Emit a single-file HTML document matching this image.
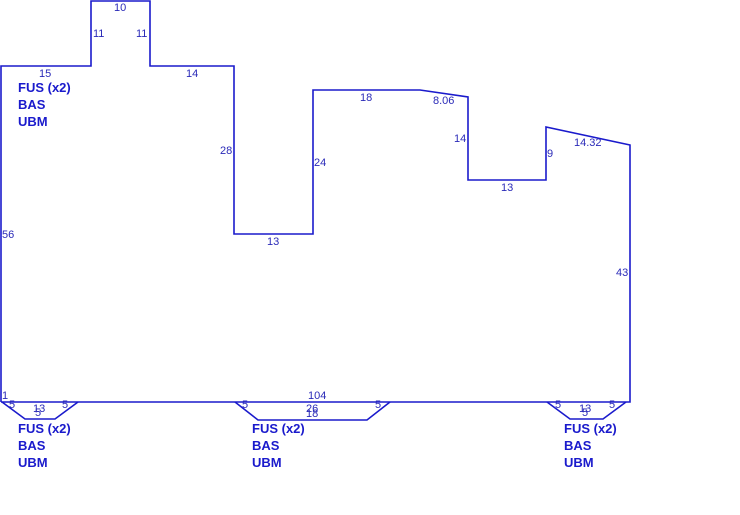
<!DOCTYPE html>
<html><head><style>
body{margin:0;background:#fff;}
svg{display:block;font-family:"Liberation Sans",sans-serif;}
.l{font-size:11px;fill:#2a2ab8;}
.b{font-size:13px;font-weight:bold;fill:#1a1acc;}
</style></head><body>
<svg width="740" height="515" viewBox="0 0 740 515">
<g fill="none" stroke="#1a1acc" stroke-width="1.6">
<polyline points="1,402 1,66 91,66 91,1 150,1 150,66 234,66 234,234 313,234 313,90 420,90 468,97 468,180 546,180 546,127 630,145 630,402 1,402"/>
<polyline points="2,402 25,419 55,419 78,402"/>
<polyline points="235,402 258,420 367,420 390,402"/>
<polyline points="547,402 570,419 603,419 626,402"/>
</g>
<g class="l">
<text x="114" y="11">10</text>
<text x="93" y="37">11</text>
<text x="136" y="37">11</text>
<text x="39" y="77">15</text>
<text x="186" y="77">14</text>
<text x="220" y="154">28</text>
<text x="360" y="101">18</text>
<text x="433" y="104">8.06</text>
<text x="314" y="166">24</text>
<text x="267" y="245">13</text>
<text x="454" y="142">14</text>
<text x="501" y="191">13</text>
<text x="547" y="157">9</text>
<text x="574" y="146">14.32</text>
<text x="616" y="276">43</text>
<text x="2" y="238">56</text>
<text x="308" y="399">104</text>
<text x="2" y="399">1</text>
<text x="9" y="408">5</text>
<text x="33" y="412">13</text>
<text x="35" y="416">5</text>
<text x="62" y="408">5</text>
<text x="242" y="408">5</text>
<text x="306" y="412">26</text>
<text x="306" y="417">18</text>
<text x="375" y="408">5</text>
<text x="555" y="408">5</text>
<text x="579" y="412">13</text>
<text x="582" y="416">5</text>
<text x="609" y="408">5</text>
</g>
<g class="b">
<text x="18" y="92">FUS (x2)</text><text x="18" y="109">BAS</text><text x="18" y="126">UBM</text>
<text x="18" y="433">FUS (x2)</text><text x="18" y="450">BAS</text><text x="18" y="467">UBM</text>
<text x="252" y="433">FUS (x2)</text><text x="252" y="450">BAS</text><text x="252" y="467">UBM</text>
<text x="564" y="433">FUS (x2)</text><text x="564" y="450">BAS</text><text x="564" y="467">UBM</text>
</g>
</svg>
</body></html>
